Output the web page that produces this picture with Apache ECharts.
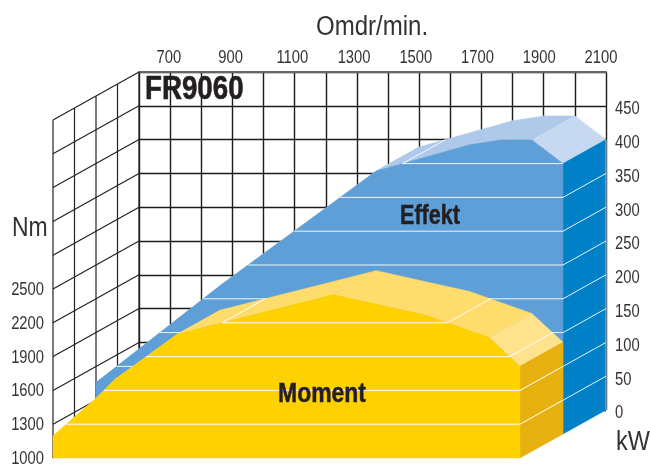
<!DOCTYPE html>
<html><head><meta charset="utf-8">
<style>html,body{margin:0;padding:0;background:#fff}#c{width:650px;height:464px}</style>
<script src="https://cdn.jsdelivr.net/npm/echarts@6/dist/echarts.min.js"></script>
</head><body><div id="c"></div>
<script>
const rpmAxisLabels = [700, 900, 1100, 1300, 1500, 1700, 1900, 2100];
const nmAxisLabels = [1000, 1300, 1600, 1900, 2200, 2500];
const kwAxisLabels = [0, 50, 100, 150, 200, 250, 300, 350, 400, 450];
const nmLevels = [1300, 1600, 1900, 2200, 2500];
const kwLevels = [50, 100, 150, 200, 250, 300, 350, 400, 450];
const wallNm = [1000, 1300, 1600, 1900, 2200, 2500, 2800, 3100, 3400, 3700, 4000];
const wallDepths = [0, 0.25, 0.5, 0.75, 1];
const effektRpm = [600, 1000, 1500, 1800, 1900, 2000, 2100];
const effektKw = [76, 220, 389, 428, 435, 435, 400];
const momentRpm = [600, 740, 800, 1000, 1500, 1800, 2000, 2100];
const momentNm = [1195, 1534, 1700, 2100, 2450, 2265, 2070, 1815];

const FONT = '"Liberation Sans",Arial,sans-serif';
const INK = '#333', DARK = '#231f20';
const DX = 86, DY = -48;          // oblique offset, front plane to rear wall
const halfD = [DX / 2, DY / 2];
const CONDENSE = 0.82;

function seriesPts(api, n) {
  const pts = [];
  for (let i = 0; i < n; i++) pts.push(api.coord([api.value(0, i), api.value(1, i)]));
  return pts;
}
const shift = (p, d) => [p[0] + d[0], p[1] + d[1]];
const poly = (points, fill) => ({ type: 'polygon', shape: { points }, style: { fill, stroke: fill, lineWidth: 0.5 } });
const seg = (a, b, stroke, lineWidth) => ({ type: 'line', shape: { x1: a[0], y1: a[1], x2: b[0], y2: b[1] }, style: { stroke, lineWidth: lineWidth || 1, fill: null } });

function wallItem(params, api) {
  if (params.dataIndex !== 0) return null;
  const children = [], xMin = 600;
  wallNm.forEach(v => {
    const p = api.coord([xMin, v]);
    children.push(seg(p, shift(p, [DX, DY]), '#222', 1.2));
  });
  wallDepths.forEach(f => {
    const a = api.coord([xMin, wallNm[0]]), b = api.coord([xMin, wallNm[wallNm.length - 1]]);
    children.push(seg(shift(a, [DX * f, DY * f]), shift(b, [DX * f, DY * f]), '#222', 1.2));
  });
  return { type: 'group', children };
}

function topSurface(topColor, endColor) {
  return function (params, api) {
    const i = params.dataIndex, n = params.dataInsideLength;
    if (i >= n - 1) return null;
    const a = api.coord([api.value(0, i), api.value(1, i)]);
    const b = api.coord([api.value(0, i + 1), api.value(1, i + 1)]);
    return poly([a, b, shift(b, halfD), shift(a, halfD)], i === n - 2 ? endColor : topColor);
  };
}

function block(faceColor, sideColor, edge) {
  return function (params, api) {
    if (params.dataIndex !== 0) return null;
    const pts = seriesPts(api, params.dataInsideLength);
    const last = pts[pts.length - 1];
    const baseL = [pts[0][0], api.coord([api.value(0, 0), edge.base])[1]];
    const baseR = [last[0], baseL[1]];
    const children = [
      poly([last, baseR, shift(baseR, halfD), shift(last, halfD)], sideColor),
      poly([baseL].concat(pts, [baseR]), faceColor)
    ];
    if (edge.rim) children.push(seg(shift(baseR, halfD), shift(last, halfD), edge.rim));
    return { type: 'group', children };
  };
}

function levelLines(levels, stroke) {
  return function (params, api) {
    if (params.dataIndex !== 0) return null;
    const n = params.dataInsideLength, xs = [], ys = [];
    for (let i = 0; i < n; i++) { xs.push(api.value(0, i)); ys.push(api.value(1, i)); }
    const children = [];
    levels.forEach(L => {
      let start = ys[0] >= L ? xs[0] : null;
      for (let i = 0; i < n - 1; i++) {
        const a = ys[i], b = ys[i + 1];
        const rise = a < L && b >= L, fall = a >= L && b < L;
        if (!rise && !fall) continue;
        const x = xs[i] + (L - a) / (b - a) * (xs[i + 1] - xs[i]);
        const P = api.coord([x, L]);
        const p = api.coord([xs[i], a]), q = api.coord([xs[i + 1], b]);
        const visible = (q[1] - p[1]) / (q[0] - p[0]) > DY / DX;
        if (visible) children.push(seg(P, shift(P, halfD), stroke));
        if (rise) start = x;
        else { children.push(seg(api.coord([start, L]), P, stroke)); start = null; }
      }
      if (start !== null) {
        const E = api.coord([xs[n - 1], L]);
        children.push(seg(api.coord([start, L]), E, stroke));
        if (ys[n - 1] > L) children.push(seg(E, shift(E, halfD), stroke));
      }
    });
    return { type: 'group', children };
  };
}

// tick labels placed through the axes, condensed to the reference's narrow type
function tickText(align, dx, dy) {
  return function (params, api) {
    const v = api.value(2);
    const p = api.coord([api.value(0), api.value(1)]);
    return { type: 'text', x: p[0] + dx, y: p[1] + dy, scaleX: CONDENSE,
      style: { text: String(v), x: 0, y: 0, align, verticalAlign: 'middle',
        font: '18px ' + FONT, fill: INK } };
  };
}

const plain = { show: false };
function gridX(i, extra) {
  return Object.assign({ gridIndex: i, type: 'value', min: 600, max: 2100, interval: 100,
    axisLine: plain, axisTick: plain, axisLabel: plain, splitLine: plain }, extra);
}
function gridY(i, min, max, interval, extra) {
  return Object.assign({ gridIndex: i, type: 'value', min, max, interval,
    axisLine: plain, axisTick: plain, axisLabel: plain, splitLine: plain }, extra);
}
const wallLine = { show: true, lineStyle: { color: '#1c1c1c', width: 1.4 } };
const pairs = (x, y) => x.map((v, i) => [v, y[i]]);
const custom = (axis, data, renderItem, z) => ({ type: 'custom', xAxisIndex: axis, yAxisIndex: axis, data,
  renderItem, z, clip: false, silent: true, encode: { x: 0, y: 1 } });
const txt = (text, x, y, size, weight, scaleX, fill, strokeW) => ({ type: 'text', x, y, scaleX, z: 50,
  style: { text, x: 0, y: 0, verticalAlign: 'middle', font: weight + ' ' + size + 'px ' + FONT, fill,
    stroke: strokeW ? fill : null, lineWidth: strokeW || 0 } });

const option = {
  animation: false,
  backgroundColor: '#fff',
  graphic: [
    txt('FR9060', 145, 90, 33, 'bold', 0.84, DARK, 0.6),
    txt('Effekt', 400, 216, 28, 'bold', 0.77, DARK, 0.5),
    txt('Moment', 278, 394, 28, 'bold', 0.82, DARK, 0.5),
    txt('Nm', 12, 229, 27, 'normal', 0.85, INK),
    txt('kW', 616, 443, 27, 'normal', 0.87, INK),
    txt('Omdr/min.', 316, 28, 27, 'normal', 0.89, INK)
  ],
  grid: [
    { left: 53, top: 120, width: 467, height: 338 },
    { left: 96, top: 96, width: 467, height: 338 },
    { left: 139, top: 72, width: 467, height: 338 },
    { left: 138, top: 72, width: 463, height: 338 }
  ],
  xAxis: [
    gridX(0), gridX(1),
    gridX(2, { position: 'top', splitLine: wallLine,
      axisLine: { show: true, onZero: false, lineStyle: { color: '#666', width: 2 } } }),
    gridX(3)
  ],
  yAxis: [
    gridY(0, 1000, 4000, 300), gridY(1, 0, 500, 50),
    gridY(2, 0, 500, 50, { splitLine: wallLine }), gridY(3, 0, 500, 50)
  ],
  series: [
    custom(0, wallNm.map(v => [600, v]), wallItem, 1),
    custom(1, pairs(effektRpm, effektKw), topSurface('#AEC9E9', '#C7D9F1'), 2),
    custom(1, pairs(effektRpm, effektKw), block('#5F9FD8', '#0080C6', { base: 0, rim: '#b4c2ce' }), 3),
    custom(1, pairs(effektRpm, effektKw), levelLines(kwLevels, 'rgba(255,255,255,0.9)'), 4),
    custom(0, pairs(momentRpm, momentNm), topSurface('#FFDD6C', '#FFE28C'), 5),
    custom(0, pairs(momentRpm, momentNm), block('#FFD100', '#E6B10E', { base: 1000, rim: null }), 6),
    custom(0, pairs(momentRpm, momentNm), levelLines(nmLevels, '#fff'), 7),
    custom(3, rpmAxisLabels.map(v => [v, 500, v]), tickText('center', 0, -14), 10),
    custom(0, nmAxisLabels.map(v => [600, v, v]), tickText('right', -9, 1), 10),
    custom(2, kwAxisLabels.map(v => [2100, v, v]), tickText('left', 9, 3.5), 10)
  ]
};
echarts.init(document.getElementById('c'), null, { renderer: 'canvas' }).setOption(option);
</script></body></html>
